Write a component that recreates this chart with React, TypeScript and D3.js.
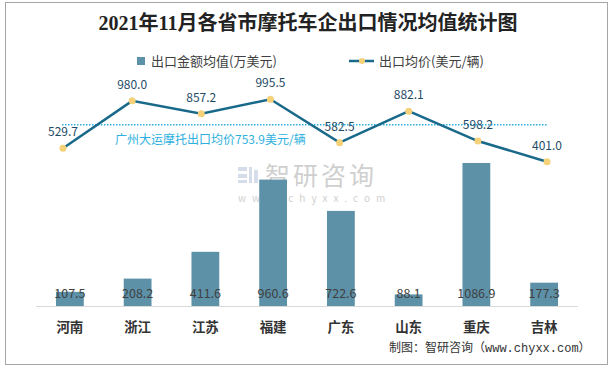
import React from "react";
import * as d3 from "d3";

const categories = ["河南", "浙江", "江苏", "福建", "广东", "山东", "重庆", "吉林"];
const amountValues = [107.5, 208.2, 411.6, 960.6, 722.6, 88.1, 1086.9, 177.3];
const priceValues = [529.7, 980.0, 857.2, 995.5, 582.5, 882.1, 598.2, 401.0];
const refValue = 753.9;
const refLabel = "广州大运摩托出口均价753.9美元/辆";
const title = "2021年11月各省市摩托车企出口情况均值统计图";
const legendBar = "出口金额均值(万美元)";
const legendLine = "出口均价(美元/辆)";
const source = "制图：智研咨询（www.chyxx.com）";

const W = 616;
const H = 369;
const SANS = "'Noto Sans CJK SC', 'Noto Sans', sans-serif";

export default function App() {
  const x = d3.scaleBand<string>().domain(categories).range([36, 578]).paddingInner(0.59).paddingOuter(0.295);
  const xLine = d3.scalePoint<string>().domain(categories).range([63, 547]);
  const yBar = d3.scaleLinear().domain([0, 1800]).range([306, 306 - 1800 * 0.1316]);
  const yLine = d3.scaleLinear().domain([-970, 1200]).range([306, 306 - 2170 * 0.1052]);
  const cx = (c: string) => (x(c) as number) + x.bandwidth() / 2;
  const lx = (c: string) => xLine(c) as number;
  const line = d3.line<number>().x((_, i) => lx(categories[i])).y((d) => yLine(d));
  const lineColor = "#18698A";
  const barColor = "#5D91A8";
  const refColor = "#2DB0E0";

  return (
    <svg width={W} height={H} style={{ position: "absolute", left: 0, top: 0 }} fontFamily={SANS}>
      <rect x={0} y={0} width={W} height={H} fill="#fff" />
      <rect x={5.5} y={2.5} width={602} height={362} fill="none" stroke="#a6a6a6" strokeWidth={1} />
      <text x={308} y={30} textAnchor="middle" fontSize={20} fontWeight="bold" fill="#222"
        fontFamily="'Liberation Serif', 'Noto Sans CJK SC', serif">{title}</text>

      {/* legend */}
      <rect x={137} y={57} width={8} height={8} fill={barColor} />
      <text x={151} y={65.5} fontSize={13} fill="#404040">{legendBar}</text>
      <line x1={349} x2={374} y1={61} y2={61} stroke={lineColor} strokeWidth={2.5} />
      <circle cx={362} cy={61} r={3} fill="#F5D27A" />
      <text x={379} y={65.5} fontSize={13} fill="#404040">{legendLine}</text>

      {/* watermark */}
      <g opacity={0.35}>
        <rect x={238} y={167} width={9} height={4} fill="#8aa0c8" />
        <rect x={238} y={174} width={9} height={4} fill="#8aa0c8" />
        <rect x={238} y={180} width={9} height={3} fill="#8aa0c8" />
        <rect x={249} y={167} width={3} height={16} fill="#8aa0c8" />
        <rect x={254} y={170} width={4} height={13} fill="#8aa0c8" />
        <text x={265} y={185} fontSize={25} fill="#777" letterSpacing={3}>智研咨询</text>
        <text x={238} y={202} fontSize={10} fill="#777" letterSpacing={6}>www.chyxx.com</text>
      </g>

      {/* bars */}
      {amountValues.map((v, i) => (
        <rect key={categories[i]} x={x(categories[i])} y={yBar(v)} width={x.bandwidth()} height={306 - yBar(v)} fill={barColor} />
      ))}
      <line x1={36} x2={578} y1={306.5} y2={306.5} stroke="#d9d9d9" strokeWidth={1} />
      {amountValues.map((v, i) => (
        <text key={"bl" + i} x={cx(categories[i])} y={298} textAnchor="middle" fontSize={12.5} fill="#404040">{v.toFixed(1)}</text>
      ))}

      {/* reference line */}
      <line x1={62} x2={548} y1={yLine(refValue)} y2={yLine(refValue)} stroke={refColor} strokeWidth={1.5} strokeDasharray="1.5 1.5" />
      <text x={115} y={144} fontSize={12} fill={refColor}>{refLabel}</text>

      {/* line series */}
      <path d={line(priceValues) as string} fill="none" stroke={lineColor} strokeWidth={2.5} />
      {priceValues.map((v, i) => (
        <circle key={"p" + i} cx={lx(categories[i])} cy={yLine(v)} r={3.5} fill="#F5D27A" />
      ))}
      {priceValues.map((v, i) => (
        <text key={"pl" + i} x={lx(categories[i])} y={yLine(v) - 12} textAnchor="middle" fontSize={12} fill="#1E4B66">{v.toFixed(1)}</text>
      ))}

      {/* x axis labels */}
      {categories.map((c) => (
        <text key={"x" + c} x={cx(c)} y={332} textAnchor="middle" fontSize={13.5} fontWeight="bold" fill="#333">{c}</text>
      ))}

      <text x={389} y={352} fontSize={12} fill="#333" fontFamily="'Liberation Mono', 'Noto Sans CJK SC', monospace">{source}</text>
    </svg>
  );
}
